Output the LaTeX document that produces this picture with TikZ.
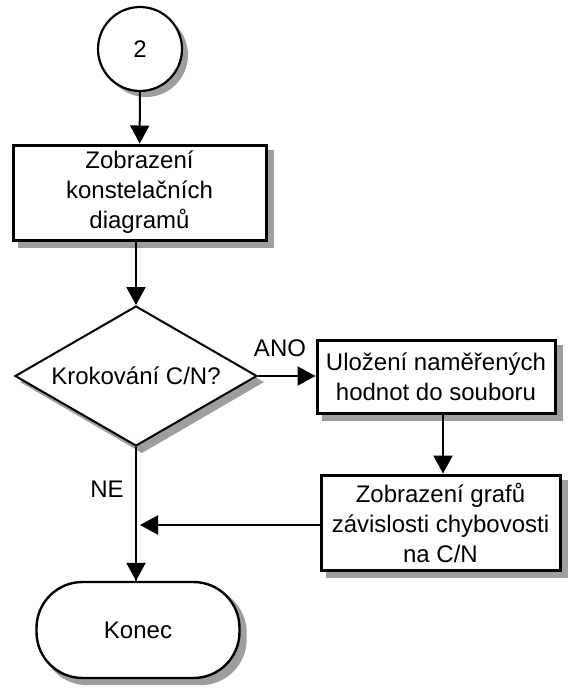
\documentclass[tikz,border=0pt]{standalone}
\usepackage{fontspec}
\setmainfont{Liberation Sans}
\usetikzlibrary{shapes.geometric,arrows.meta}
\pgfdeclarelayer{bg}
\pgfsetlayers{bg,main}
\begin{document}
\begin{tikzpicture}[x=1pt,y=-1pt,
  font=\fontsize{24}{30}\selectfont,
  shadowfill/.style={fill=black!38,draw=none},
  procbox/.style={draw,line width=3pt,fill=white,align=center,inner sep=0pt},
  conn/.style={line width=2pt,-{Triangle[width=19pt,length=18pt]}},
  lbl/.style={inner sep=0pt}]
\useasboundingbox (0,0) rectangle (568,689);
\node[circle,draw,line width=2.2pt,fill=white,minimum size=84pt,inner sep=0pt] (c2) at (140,49) {2};
\node[procbox,minimum width=253pt,minimum height=95pt] (b1) at (139.5,192.5) {Zobrazení\\konstelačních\\diagramů};
\node[diamond,draw,line width=2pt,fill=white,aspect=1.73,minimum width=242pt,minimum height=140pt,inner sep=0pt] (d) at (136,376) {Krokování C/N?};
\node[procbox,minimum width=238pt,minimum height=73pt] (b2) at (436,376.5) {Uložení naměřených\\hodnot do souboru};
\node[procbox,minimum width=239pt,minimum height=95pt] (b3) at (440.5,522.5) {Zobrazení grafů\\závislosti chybovosti\\na C/N};
\node[draw,line width=2.4pt,fill=white,rounded corners=46pt,minimum width=203pt,minimum height=96pt] (k) at (138,630) {Konec};
\node[lbl] (ano) at (280,348) {ANO};
\node[lbl] (ne) at (107,489) {NE};
\coordinate (m) at (140,525);
\begin{pgfonlayer}{bg}
  \fill[shadowfill] ([shift={(6,6)}]c2.center) circle (42);
  \fill[shadowfill] ([shift={(6,6)}]b1.north west) rectangle ([shift={(6,6)}]b1.south east);
  \fill[shadowfill] ([shift={(6,6)}]b2.north west) rectangle ([shift={(6,6)}]b2.south east);
  \fill[shadowfill] ([shift={(6,6)}]b3.north west) rectangle ([shift={(6,6)}]b3.south east);
  \fill[shadowfill] ([shift={(6,6)}]d.north) -- ([shift={(6,6)}]d.east) -- ([shift={(6,6)}]d.south) -- ([shift={(6,6)}]d.west) -- cycle;
  \fill[shadowfill,rounded corners=46pt] ([shift={(6,6)}]k.north west) rectangle ([shift={(6,6)}]k.south east);
\end{pgfonlayer}
\draw[conn] (c2) -- (b1);
\draw[conn] (b1.south -| d.north) -- (d.north);
\draw[conn] (d.east) -- (b2.west |- d.east);
\draw[conn] (b2.south -| 443,0) -- (b3.north -| 443,0);
\draw[line width=2pt] (d.south) -- (d.south |- k.north);
\draw[conn] (d.south |- 0,540) -- (d.south |- k.north);
\draw[conn] (b3.west |- m) -- (m);
\end{tikzpicture}
\end{document}
